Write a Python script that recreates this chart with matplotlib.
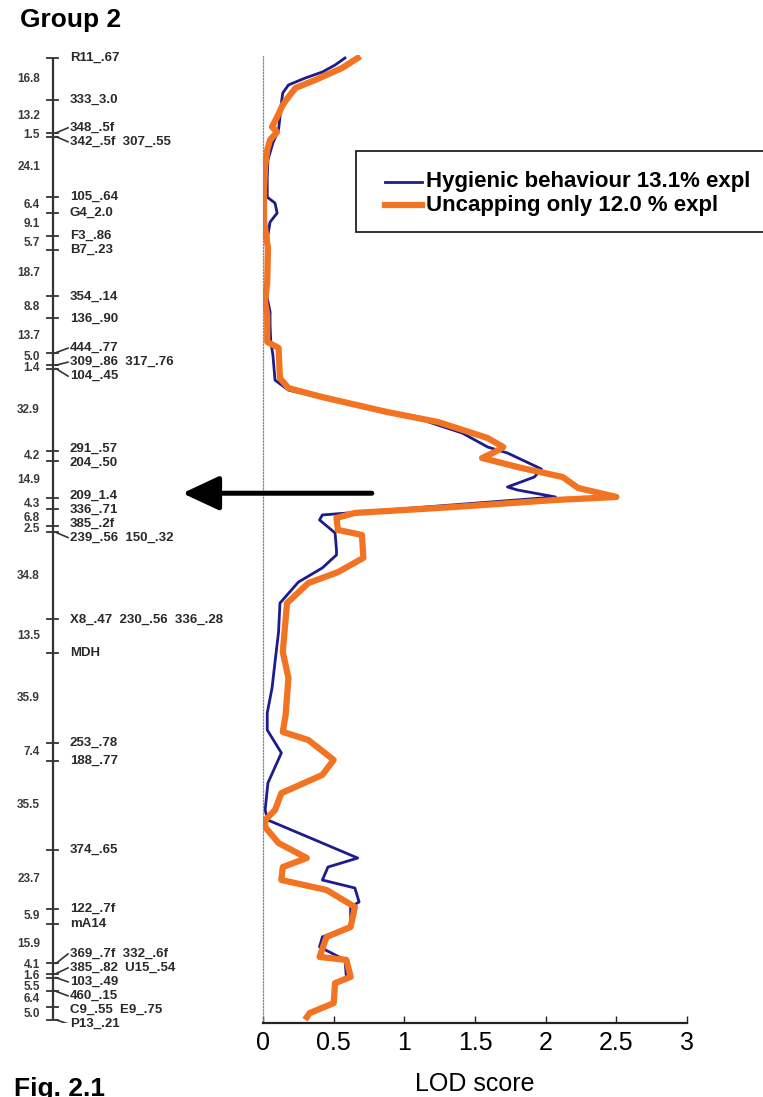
import numpy as np
import matplotlib
matplotlib.use('Agg')
import matplotlib.pyplot as plt
from matplotlib.patches import Rectangle
from matplotlib.lines import Line2D

plt.rcParams['font.family'] = 'Liberation Sans'

# linkage group 2 : marker names and distances (cM) between neighbours
markers = ['R11_.67', '333_3.0', '348_.5f', '342_.5f  307_.55', '105_.64', 'G4_2.0',
           'F3_.86', 'B7_.23', '354_.14', '136_.90', '444_.77', '309_.86  317_.76',
           '104_.45', '291_.57', '204_.50', '209_1.4', '336_.71', '385_.2f',
           '239_.56  150_.32', 'X8_.47  230_.56  336_.28', 'MDH', '253_.78', '188_.77',
           '374_.65', '122_.7f', 'mA14', '369_.7f  332_.6f', '385_.82  U15_.54',
           '103_.49', '460_.15', 'C9_.55  E9_.75', 'P13_.21']
gaps = [16.8, 13.2, 1.5, 24.1, 6.4, 9.1, 5.7, 18.7, 8.8, 13.7, 5.0, 1.4, 32.9, 4.2,
        14.9, 4.3, 6.8, 2.5, 34.8, 13.5, 35.9, 7.4, 35.5, 23.7, 5.9, 15.9, 4.1, 1.6,
        5.5, 6.4, 5.0]

# LOD profiles (position in cM along the group, LOD score)
hyg_pos = [0, 2.8, 5.6, 8.0, 10.8, 14.0, 18.0, 23.6, 28.8, 34.0, 40.8, 47.7, 55.7,
           58.1, 62.1, 65.7, 70.9, 96.1, 101.7, 106.9, 113.7, 118.9, 129.0, 133.0,
           136.2, 140.2, 145.0, 150.2, 155.8, 158.2, 164.6, 167.8, 171.8, 173.0,
           175.8, 183.0, 185.0, 190.2, 197.0, 199.0, 204.2, 209.9, 218.3, 229.9,
           241.9, 252.3, 262.3, 269.1, 278.3, 290.3, 301.2, 305.2, 314.4, 320.4,
           324.0, 329.2, 332.4, 338.0, 340.0, 348.0, 352.0, 356.0, 361.2, 368.0,
           370.5, 378.5, 382.5, 383.7]
hyg_lod = [0.58, 0.51, 0.42, 0.30, 0.18, 0.14, 0.13, 0.12, 0.11, 0.07, 0.035, 0.03,
           0.03, 0.085, 0.10, 0.05, 0.035, 0.03, 0.05, 0.05, 0.055, 0.07, 0.085, 0.18,
           0.42, 0.77, 1.13, 1.41, 1.59, 1.73, 1.97, 1.92, 1.73, 1.80, 2.07, 0.42,
           0.40, 0.51, 0.52, 0.52, 0.42, 0.25, 0.12, 0.11, 0.085, 0.064, 0.03, 0.03,
           0.13, 0.035, 0.015, 0.035, 0.42, 0.67, 0.46, 0.42, 0.65, 0.68, 0.62, 0.62,
           0.42, 0.40, 0.58, 0.59, 0.51, 0.50, 0.33, 0.32]
unc_pos = [0, 4.0, 8.8, 12.0, 15.6, 18.8, 23.6, 27.6, 29.6, 32.8, 36.8, 43.7, 52.9,
           64.9, 76.1, 89.7, 97.7, 102.9, 113.7, 116.1, 128.2, 132.2, 135.8, 141.8,
           145.8, 152.2, 155.8, 157.8, 160.2, 164.2, 167.8, 172.2, 175.8, 177.0,
           179.8, 182.2, 184.2, 189.0, 191.0, 200.2, 205.9, 210.3, 218.3, 237.9,
           248.3, 263.1, 269.9, 273.1, 281.1, 287.1, 294.4, 301.2, 305.2, 308.0,
           314.4, 320.4, 324.0, 329.2, 333.2, 340.0, 348.0, 352.0, 360.0, 361.2,
           368.0, 370.5, 378.5, 382.5, 384.1]
unc_lod = [0.67, 0.56, 0.37, 0.23, 0.18, 0.14, 0.10, 0.064, 0.10, 0.05, 0.03, 0.015,
           0.007, 0.007, 0.035, 0.03, 0.015, 0.03, 0.03, 0.11, 0.12, 0.18, 0.42, 0.88,
           1.24, 1.59, 1.70, 1.64, 1.55, 1.83, 2.12, 2.23, 2.50, 2.07, 1.36, 0.65,
           0.52, 0.53, 0.70, 0.71, 0.53, 0.32, 0.17, 0.14, 0.18, 0.16, 0.14, 0.32,
           0.50, 0.42, 0.13, 0.085, 0.015, 0.015, 0.11, 0.31, 0.14, 0.13, 0.45, 0.65,
           0.62, 0.45, 0.40, 0.59, 0.62, 0.51, 0.50, 0.33, 0.31]

series_names = ['Hygienic behaviour 13.1% expl', 'Uncapping only 12.0 % expl']
xticks = [0, 0.5, 1, 1.5, 2, 2.5, 3]
xticklabels = ['0', '0.5', '1', '1.5', '2', '2.5', '3']

blue = '#1c1c8c'
orange = '#f27322'


def spread(y, gap):
    # push labels apart so they don't overlap
    y = np.array(y, dtype=float)
    for _ in range(300):
        for i in range(len(y) - 1):
            d = y[i + 1] - y[i]
            if d < gap:
                s = (gap - d) / 2.0
                y[i] -= s
                y[i + 1] += s
    return y


pos = np.concatenate([[0], np.cumsum(gaps)])
mids = (pos[:-1] + pos[1:]) / 2.0
lab_y = spread(pos, 5.6)
gap_y = spread(mids, 4.4)

W, H = 763, 1097
fig = plt.figure(figsize=(W / 100, H / 100), dpi=100)
top_px, bot_px = 55, 1023
y0 = (H - bot_px) / H
hh = (bot_px - top_px) / H
ax = fig.add_axes([263 / W, y0, 424 / W, hh])
axm = fig.add_axes([0, y0, 263 / W, hh], sharey=ax)

# LOD plot
ax.plot(hyg_lod, hyg_pos, color=blue, lw=2.0, solid_joinstyle='round')
ax.plot(unc_lod, unc_pos, color=orange, lw=4.5, solid_joinstyle='round')
ax.set_xlim(0, 3)
ax.set_ylim((bot_px - 58) / 2.497, (top_px - 58) / 2.497)
for s in ['top', 'right']:
    ax.spines[s].set_visible(False)
ax.spines['left'].set_color('#888888')
ax.spines['left'].set_linewidth(0.9)
ax.spines['left'].set_linestyle((0, (1, 1.5)))
ax.spines['bottom'].set_color('#222222')
ax.spines['bottom'].set_linewidth(1.6)
ax.set_yticks([])
ax.set_xticks(xticks)
ax.set_xticklabels(xticklabels, fontsize=18)
ax.tick_params(axis='x', direction='in', length=5, width=1, pad=6, colors='#222222',
               labelcolor='black')
ax.set_xlabel('LOD score', fontsize=18, labelpad=12)

# legend box (its right side runs off the picture, as in the original)
box = Rectangle((356 / W, 1 - 232 / H), 420 / W, 81 / H, transform=fig.transFigure,
                facecolor='white', edgecolor='#222222', lw=1.3, clip_on=False)
fig.patches.append(box)
for name, col, lw, ypx in zip(series_names, [blue, orange], [2.0, 4.5], [182, 205]):
    fig.lines.append(Line2D([385 / W, 422 / W], [1 - ypx / H, 1 - ypx / H],
                            transform=fig.transFigure, color=col, lw=lw))
    fig.text(426 / W, 1 - ypx / H, name, fontsize=16, fontweight='bold',
             va='center', ha='left')

# arrow pointing at the QTL peak
peak = unc_pos[int(np.argmax(unc_lod))] - 1.5
ax.annotate('', xy=(-0.57, peak), xytext=(0.77, peak), xycoords='data',
            arrowprops=dict(arrowstyle='-|>,head_length=0.75,head_width=0.35',
                            mutation_scale=30, lw=3.6, color='black',
                            shrinkA=0, shrinkB=0),
            annotation_clip=False)

# linkage map
axm.set_xlim(0, 263)
axm.axis('off')
bar_x = 53
axm.plot([bar_x, bar_x], [pos[0], pos[-1]], color='#333333', lw=1.6, solid_capstyle='butt')
for p, ly, name in zip(pos, lab_y, markers):
    axm.plot([bar_x - 6, bar_x + 5], [p, p], color='#333333', lw=1.3)
    if abs(ly - p) > 1.2:
        axm.plot([bar_x + 3, 68], [p, ly], color='#333333', lw=1.2)
    axm.text(70, ly, name, fontsize=9.5, fontweight='bold', va='center', ha='left',
             color='#2a2a2a')
for g, gy in zip(gaps, gap_y):
    axm.text(40, gy, '%.1f' % g, fontsize=8.5, fontweight='bold', va='center',
             ha='right', color='#3a3a3a')

fig.text(20 / W, 1 - 8 / H, 'Group 2', fontsize=19, fontweight='bold', va='top', ha='left')
fig.text(14 / W, 1 - 1077 / H, 'Fig. 2.1', fontsize=19, fontweight='bold', va='top', ha='left')

fig.savefig('out.png', dpi=100)
